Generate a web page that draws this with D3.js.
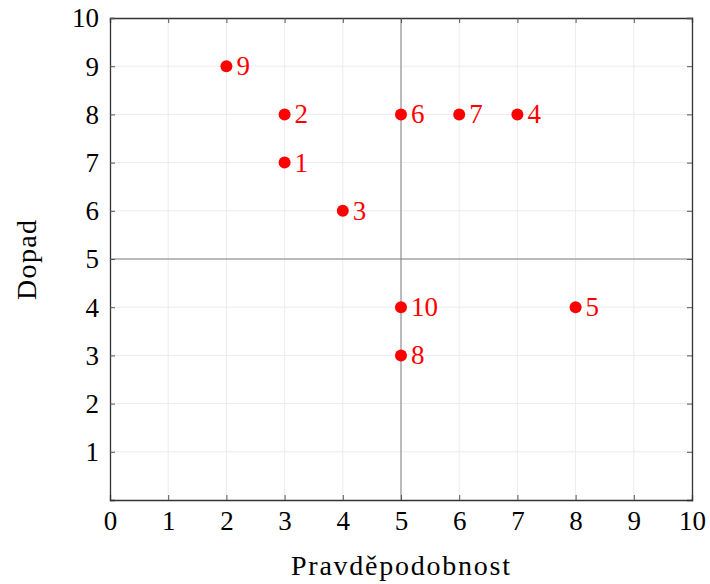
<!DOCTYPE html>
<html>
<head>
<meta charset="utf-8">
<script src="https://cdn.jsdelivr.net/npm/d3@7"></script>
<style>
  body { margin: 0; background: #fff; }
  text { font-family: "Liberation Serif", "DejaVu Serif", serif; }
</style>
</head>
<body>
<div id="chart"></div>
<script>
// data
const labels = ["1", "2", "3", "4", "5", "6", "7", "8", "9", "10"];
const probability = [3, 3, 4, 7, 8, 5, 6, 5, 2, 5];
const impact = [7, 8, 6, 8, 4, 8, 8, 3, 9, 4];
const xTicks = [0, 1, 2, 3, 4, 5, 6, 7, 8, 9, 10];
const yTicks = [1, 2, 3, 4, 5, 6, 7, 8, 9, 10];

const W = 710, H = 584;
const X1 = 110, X2 = 692, Y1 = 18, Y2 = 500;

const svg = d3.select("#chart").append("svg")
    .attr("width", W)
    .attr("height", H);

const x = d3.scaleLinear().domain([0, 10]).range([X1, X2]);
const y = d3.scaleLinear().domain([0, 10]).range([Y2, Y1]);

// grid
const grid = svg.append("g");
grid.selectAll(".gx").data(xTicks.slice(1, -1)).enter().append("line")
    .attr("x1", d => x(d)).attr("x2", d => x(d))
    .attr("y1", Y1).attr("y2", Y2)
    .attr("stroke", "#ececec").attr("stroke-width", 1);
grid.selectAll(".gy").data(yTicks.slice(0, -1)).enter().append("line")
    .attr("y1", d => y(d)).attr("y2", d => y(d))
    .attr("x1", X1).attr("x2", X2)
    .attr("stroke", "#ececec").attr("stroke-width", 1);

// centre lines
svg.append("line")
    .attr("x1", x(5)).attr("x2", x(5)).attr("y1", Y1).attr("y2", Y2)
    .attr("stroke", "#808080").attr("stroke-width", 1);
svg.append("line")
    .attr("x1", X1).attr("x2", X2).attr("y1", y(5)).attr("y2", y(5))
    .attr("stroke", "#808080").attr("stroke-width", 1);

// axes (ticks inside, mirrored)
const tickLen = 5;
const fontSize = 27;
const axB = svg.append("g").attr("transform", `translate(0,${Y2})`)
    .call(d3.axisBottom(x).tickValues(xTicks).tickSize(-tickLen).tickPadding(12));
const axT = svg.append("g").attr("transform", `translate(0,${Y1})`)
    .call(d3.axisTop(x).tickValues(xTicks).tickSize(-tickLen).tickFormat(""));
const axL = svg.append("g").attr("transform", `translate(${X1},0)`)
    .call(d3.axisLeft(y).tickValues(yTicks).tickSize(-tickLen).tickPadding(11));
const axR = svg.append("g").attr("transform", `translate(${X2},0)`)
    .call(d3.axisRight(y).tickValues(yTicks).tickSize(-tickLen).tickFormat(""));

[axB, axT, axL, axR].forEach(a => {
    a.select(".domain").attr("stroke", "#333").attr("stroke-width", 1.3);
    a.selectAll(".tick line").attr("stroke", "#555").attr("stroke-width", 1);
    a.selectAll(".tick text")
        .style("font-family", '"Liberation Serif", "DejaVu Serif", serif')
        .style("font-size", fontSize + "px")
        .attr("fill", "#000");
});
axB.selectAll(".tick text").attr("y", 12).attr("dy", "0.66em");
axL.selectAll(".tick text").attr("dy", "0.33em");

// points
const pts = labels.map((l, i) => ({ l, px: probability[i], py: impact[i] }));
svg.selectAll("circle").data(pts).enter().append("circle")
    .attr("cx", d => x(d.px))
    .attr("cy", d => y(d.py))
    .attr("r", 6)
    .attr("fill", "red");
svg.selectAll(".lbl").data(pts).enter().append("text")
    .attr("x", d => x(d.px) + 10)
    .attr("y", d => y(d.py))
    .attr("dy", "0.33em")
    .attr("fill", "red")
    .style("font-size", fontSize + "px")
    .text(d => d.l);

// axis titles
svg.append("text")
    .attr("x", 291)
    .attr("y", 575)
    .attr("textLength", 219)
    .attr("lengthAdjust", "spacing")
    .style("font-size", "28px")
    .text("Pravděpodobnost");
svg.append("text")
    .attr("transform", `translate(36,300) rotate(-90)`)
    .attr("textLength", 80)
    .attr("lengthAdjust", "spacing")
    .style("font-size", "28px")
    .text("Dopad");
</script>
</body>
</html>
